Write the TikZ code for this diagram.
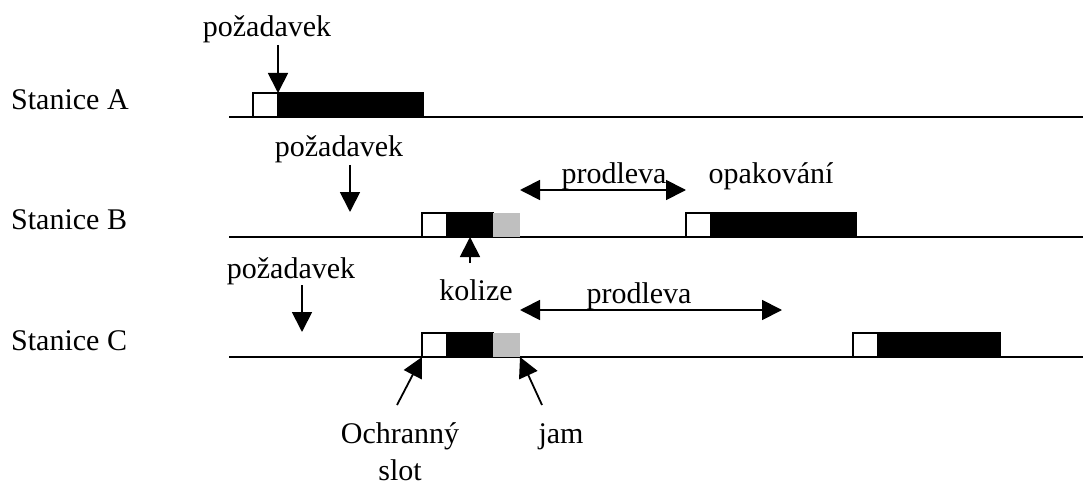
\documentclass[tikz,border=0pt]{standalone}
\usepackage{fontspec}
\setmainfont{Liberation Serif}
\usetikzlibrary{arrows.meta,positioning}

\begin{document}
\begin{tikzpicture}[
			x=1pt, y=-1pt,
			lbl/.style={font=\fontsize{30}{37}\selectfont, inner sep=0pt, anchor=base},
			medium/.style={line width=1.8pt},
			slotbox/.style={draw, line width=1.8pt, fill=white, minimum width=25pt, minimum height=24pt, inner sep=0pt, outer sep=0pt, anchor=south west},
			framebox/.style={draw, line width=1.8pt, fill=black, minimum height=24pt, inner sep=0pt, outer sep=0pt, anchor=south west},
			jambox/.style={fill=black!25, minimum width=27pt, minimum height=24pt, inner sep=0pt, outer sep=0pt, anchor=south west},
			ptr/.style={line width=1.8pt, -{Triangle[length=20pt,width=20pt]}},
			span/.style={line width=1.8pt, {Triangle[length=20pt,width=20pt]}-{Triangle[length=20pt,width=20pt]}}
			]
			\useasboundingbox (0,0) rectangle (1083,481);
			
			% Station lines
			\node[lbl, anchor=base west] (stA) at (11,110) {Stanice A};
			\node[lbl, anchor=base west] (stB) at (11,229) {Stanice B};
			\node[lbl, anchor=base west] (stC) at (11,350) {Stanice C};
			\coordinate (lineA) at (229,117);
			\coordinate (lineB) at (229,237);
			\coordinate (lineC) at (229,357);
			\draw[medium] (lineA) -- (1083,117);
			\draw[medium] (lineB) -- (1083,237);
			\draw[medium] (lineC) -- (1083,357);
			
			% Station A: sends without collision
			\node[slotbox] (slotA) at (253,117) {};
			\node[framebox, minimum width=145pt] (dataA) at (slotA.south east) {};
			\node[lbl] (reqA) at (267,37) {požadavek};
			\draw[ptr] (278,45) -- (slotA.north east);
			
			% Station B: collision, then retry
			\node[slotbox] (slotB) at (422,237) {};
			\node[framebox, minimum width=46pt] (dataB) at (slotB.south east) {};
			\node[jambox] (jamB) at (dataB.south east) {};
			\node[slotbox] (slotB2) at (686,237) {};
			\node[framebox, minimum width=145pt] (dataB2) at (slotB2.south east) {};
			\node[lbl] (reqB) at (339,157) {požadavek};
			\coordinate (reqBtip) at (350,212);
			\draw[ptr] (350,165) -- (reqBtip);
			\node[lbl] (waitB) at (614,183) {prodleva};
			\node[lbl] (retry) at (771,183) {opakování};
			\draw[span] (jamB.north east |- 0,190) -- (slotB2.north west |- 0,190);
			
			% Station C: collision, longer wait
			\node[slotbox] (slotC) at (422,357) {};
			\node[framebox, minimum width=46pt] (dataC) at (slotC.south east) {};
			\node[jambox] (jamC) at (dataC.south east) {};
			\node[slotbox] (slotC2) at (853,357) {};
			\node[framebox, minimum width=122pt] (dataC2) at (slotC2.south east) {};
			\node[lbl] (reqC) at (291,278) {požadavek};
			\coordinate (reqCtip) at (302,332);
			\draw[ptr] (302,285) -- (reqCtip);
			\node[lbl] (waitC) at (639,303) {prodleva};
			\coordinate (waitCend) at (782,310);
			\draw[span] (jamC.north east |- waitCend) -- (waitCend);
			
			% Collision marker
			\node[lbl] (coll) at (476,300) {kolize};
			\draw[ptr] (dataB.south |- 0,263) -- (dataB.south);
			
			% Guard slot and jam signal
			\node[lbl, align=center, anchor=north] (guard) at (400,422) {Ochranný\\slot};
			\node[lbl] (jamlbl) at (561,443) {jam};
			\draw[ptr] (397,405) -- (slotC.south west);
			\draw[ptr] (542,405) -- (jamC.south east);
			
		\end{tikzpicture}
\end{document}
